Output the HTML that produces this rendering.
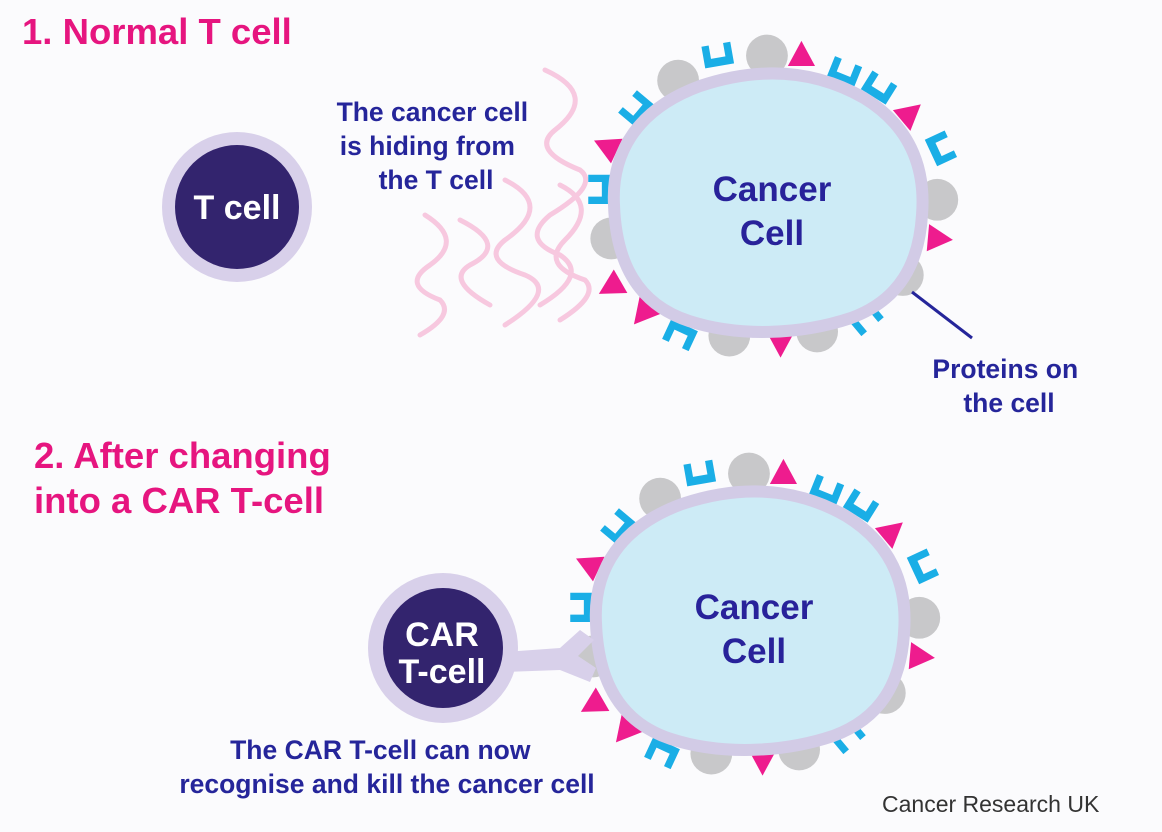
<!DOCTYPE html>
<html><head><style>
body{margin:0;background:#fbfbfd;}
svg{display:block;font-family:"Liberation Sans",sans-serif;}
</style></head><body>
<svg width="1162" height="832" viewBox="0 0 1162 832">
<defs>
<path id="cup" d="M-14,10 L-14,-11 L-7,-11 L-7,2 L7,2 L7,-11 L14,-11 L14,10 Z" fill="#1aaee6"/>
<path id="tri" d="M-13,8 L13,8 L0,-16 Z" fill="#ee1c8e"/>
<g id="cancer">
 <g transform="translate(768,205) scale(1.045) translate(-768,-205)">
 <g fill="#c8c8ca">
  <circle cx="767" cy="62" r="20"/><circle cx="682" cy="86" r="20"/><circle cx="618" cy="237" r="20"/>
  <circle cx="930" cy="200" r="20"/><circle cx="897" cy="272" r="20"/><circle cx="731" cy="330" r="20"/>
  <circle cx="815" cy="326" r="20"/>
 </g>
 <use href="#tri" transform="translate(800,64) rotate(0)"/>
 <use href="#tri" transform="translate(902,119) rotate(50)"/>
 <use href="#tri" transform="translate(616,150) rotate(-65)"/>
 <use href="#tri" transform="translate(620,282) rotate(-120)"/>
 <use href="#tri" transform="translate(650,307) rotate(-140)"/>
 <use href="#tri" transform="translate(780,335) rotate(180)"/>
 <use href="#tri" transform="translate(929,237) rotate(95)"/>
 <use href="#cup" transform="translate(720,62) rotate(-10)"/>
 <use href="#cup" transform="translate(841,78) rotate(22)"/>
 <use href="#cup" transform="translate(874,93) rotate(32)"/>
 <use href="#cup" transform="translate(642,113) rotate(-50)"/>
 <use href="#cup" transform="translate(607,190) rotate(-90)"/>
 <use href="#cup" transform="translate(933,151) rotate(65)"/>
 <use href="#cup" transform="translate(684,329) rotate(-155)"/>
 <use href="#cup" transform="translate(861,313) rotate(140)"/>
 </g>
 <path d="M614,205 C611,150 640,108 700,86 C760,66 815,70 864,98 C908,125 926,165 922,215 C919,263 900,300 851,318 C800,335 738,337 689,321 C637,304 616,262 614,205 Z" fill="#cdebf6" stroke="#d2cbe6" stroke-width="12"/>
 <text x="772" y="201" font-size="35" font-weight="bold" fill="#28229a" text-anchor="middle">Cancer</text>
 <text x="772" y="245" font-size="35" font-weight="bold" fill="#28229a" text-anchor="middle">Cell</text>
</g>
</defs>

<g font-weight="bold" fill="#e6157f" font-size="36.5">
<text x="22" y="44">1. Normal T cell</text>
<text x="34" y="468">2. After changing</text>
<text x="34" y="513">into a CAR T-cell</text>
</g>

<g fill="none" stroke="#f7c6de" stroke-width="5" stroke-linecap="round" opacity="0.95">
 <path d="M545,70 Q600,95 555,130 Q530,150 580,170 Q600,185 550,215 Q520,240 560,255 Q590,275 540,305"/>
 <path d="M505,180 Q555,205 505,240 Q480,260 525,275 Q560,290 505,325"/>
 <path d="M460,220 Q510,245 470,265 Q445,280 490,305"/>
 <path d="M425,215 Q465,240 430,265 Q400,285 440,300 Q455,315 420,335"/>
 <path d="M560,185 Q600,205 565,240 Q540,265 585,280 Q600,295 560,320"/>
</g>

<circle cx="237" cy="207" r="75" fill="#d8d0ea"/>
<circle cx="237" cy="207" r="62" fill="#33246e"/>
<text x="237" y="219" font-size="34" font-weight="bold" fill="#fff" text-anchor="middle">T cell</text>

<text font-size="26.5" font-weight="bold" fill="#25259a" text-anchor="middle">
<tspan x="436" y="121">The cancer cell</tspan>
<tspan x="431" y="155">is hiding from</tspan>
<tspan x="436" y="189">the T cell</tspan>
</text>

<use href="#cancer"/>
<line x1="912" y1="292" x2="972" y2="338" stroke="#25259a" stroke-width="3"/>
<text font-size="26.5" font-weight="bold" fill="#25259a" text-anchor="middle">
<tspan x="1009" y="378">Proteins on</tspan>
<tspan x="1009" y="412">the cell</tspan>
</text>

<use href="#cancer" transform="translate(-18,418)"/>

<path d="M505,652 L560,648 L580,630 L594,640 L578,656 L596,668 L590,682 L560,670 L505,672 Z" fill="#d8d0ea"/>
<circle cx="443" cy="648" r="75" fill="#d8d0ea"/>
<circle cx="443" cy="648" r="60" fill="#33246e"/>
<text x="442" y="646" font-size="34" font-weight="bold" fill="#fff" text-anchor="middle">CAR</text>
<text x="442" y="683" font-size="34" font-weight="bold" fill="#fff" text-anchor="middle">T-cell</text>

<text font-size="26.5" font-weight="bold" fill="#25259a" text-anchor="middle">
<tspan x="384" y="759">The CAR T-cell can now</tspan>
<tspan x="387" y="793">recognise and kill the cancer cell</tspan>
</text>
<text x="882" y="812" font-size="23" fill="#333">Cancer Research UK</text>
</svg>
</body></html>
